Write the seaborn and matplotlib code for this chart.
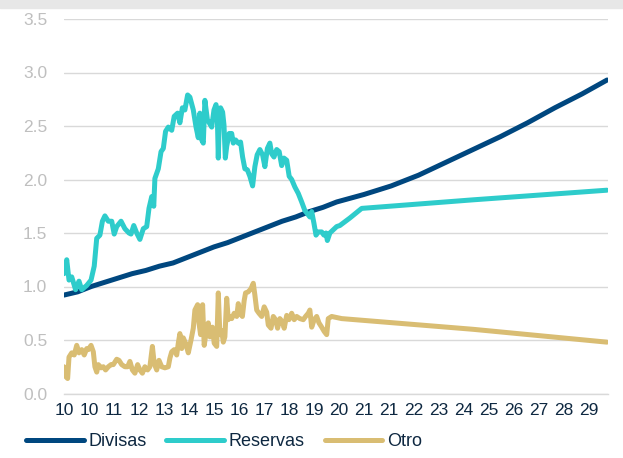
import numpy as np
import pandas as pd
import seaborn as sns
import matplotlib.pyplot as plt
from matplotlib.patches import Rectangle

# meses desde ene-2010
div_mes = [0, 6, 12, 18, 24, 30, 36, 42, 48, 54, 60, 66, 72, 78, 84, 90, 96, 102,
           108, 114, 120, 132, 144, 156, 168, 180, 192, 204, 216, 228, 239]
div_val = [0.92, 0.95, 1.00, 1.04, 1.08, 1.12, 1.15, 1.19, 1.22, 1.27, 1.32, 1.37,
           1.41, 1.46, 1.51, 1.56, 1.61, 1.65, 1.70, 1.74, 1.79, 1.86, 1.94, 2.04,
           2.16, 2.28, 2.40, 2.53, 2.67, 2.80, 2.93]

res_mes = [0.0, 1.2, 2.2, 3.4, 5.1, 6.6, 7.8, 10.0, 11.9, 13.3, 14.4, 15.8, 16.9, 18.0,
           19.5, 21.0, 22.1, 23.2, 25.1, 26.8, 28.6, 29.5, 30.7, 32.0, 33.4, 34.9, 36.4,
           37.4, 38.6, 39.5, 40.0, 41.5, 42.7, 43.7, 44.7, 45.9, 47.4, 48.5, 50.0, 51.0,
           52.1, 53.2, 54.4, 55.4, 56.9, 58.1, 59.1, 59.8, 60.6, 61.3, 62.0, 63.1, 63.9,
           65.0, 66.0, 66.9, 67.5, 67.9, 68.3, 68.9, 69.8, 70.4, 71.0, 71.6, 72.7, 73.8,
           74.5, 75.5, 76.7, 77.7, 78.6, 79.6, 80.7, 81.8, 83.0, 84.0, 85.0, 86.2, 87.4,
           88.4, 89.5, 90.6, 91.4, 92.4, 93.6, 94.7, 95.8, 96.8, 98.0, 99.1, 100.2, 101.6,
           103.1, 104.6, 106.0, 107.1, 108.2, 109.0, 110.0, 110.9, 111.9, 113.4, 114.4,
           115.3, 115.9, 117.0, 118.5, 120.0, 121.4, 125.8, 131.0, 180.0, 238.9]
res_val = [1.12, 1.25, 1.06, 1.09, 0.97, 1.05, 0.97, 1.01, 1.06, 1.19, 1.45, 1.48, 1.61, 1.66,
           1.61, 1.61, 1.49, 1.56, 1.61, 1.54, 1.50, 1.49, 1.57, 1.50, 1.44, 1.54, 1.56,
           1.73, 1.84, 1.75, 2.01, 2.10, 2.26, 2.29, 2.45, 2.49, 2.46, 2.59, 2.62, 2.53,
           2.67, 2.65, 2.79, 2.77, 2.65, 2.49, 2.39, 2.62, 2.37, 2.34, 2.74, 2.56, 2.53,
           2.49, 2.65, 2.70, 2.56, 2.20, 2.53, 2.67, 2.63, 2.51, 2.20, 2.31, 2.43, 2.43,
           2.34, 2.37, 2.34, 2.35, 2.21, 2.10, 2.09, 2.03, 1.94, 2.12, 2.23, 2.28, 2.23,
           2.12, 2.29, 2.34, 2.24, 2.21, 2.28, 2.26, 2.13, 2.20, 2.18, 2.03, 2.00, 1.93,
           1.87, 1.79, 1.71, 1.68, 1.65, 1.70, 1.59, 1.48, 1.51, 1.51, 1.48,
           1.50, 1.43, 1.50, 1.53, 1.56, 1.57, 1.64, 1.73, 1.81, 1.90]

otr_mes = [0.0, 0.7, 1.6, 2.2, 3.4, 4.5, 5.6, 6.6, 7.8, 8.9, 10.0, 10.7, 11.9, 12.9, 13.6,
           14.4, 15.1, 16.3, 17.3, 18.3, 19.5, 20.7, 21.7, 23.2, 24.2, 25.4, 26.8, 28.0,
           29.0, 30.1, 31.2, 32.4, 33.4, 34.5, 35.6, 36.8, 37.8, 38.9, 39.7, 40.8, 41.8,
           43.0, 44.4, 45.9, 46.6, 47.4, 48.5, 49.6, 50.3, 51.0, 51.8, 52.5, 53.5, 54.7,
           55.9, 56.9, 57.6, 58.8, 59.4, 60.1, 61.0, 61.7, 62.7, 63.5, 64.2, 65.3, 66.1,
           67.2, 67.9, 68.6, 69.4, 70.1, 70.8, 71.6, 72.3, 73.0, 73.8, 74.9, 76.0, 76.7,
           77.4, 78.5, 79.3, 79.9, 81.1, 82.3, 83.3, 84.0, 84.8, 85.8, 87.0, 88.1, 89.2,
           89.9, 91.1, 92.1, 93.1, 94.0, 95.0, 96.1, 96.9, 98.0, 99.0, 100.2, 101.3, 102.4,
           103.8, 105.3, 106.3, 107.5, 108.2, 109.0, 110.1, 111.2, 112.2, 113.4, 114.5,
           115.6, 116.3, 117.8, 122.2, 180.0, 238.9]
otr_val = [0.25, 0.16, 0.14, 0.34, 0.38, 0.36, 0.45, 0.38, 0.41, 0.36, 0.42, 0.41, 0.45, 0.39, 0.25,
           0.20, 0.27, 0.24, 0.25, 0.22, 0.25, 0.27, 0.27, 0.32, 0.31, 0.27, 0.25, 0.25,
           0.30, 0.22, 0.19, 0.27, 0.22, 0.19, 0.25, 0.22, 0.25, 0.44, 0.28, 0.22, 0.31,
           0.25, 0.24, 0.25, 0.33, 0.39, 0.41, 0.36, 0.47, 0.56, 0.42, 0.52, 0.47, 0.38,
           0.50, 0.61, 0.78, 0.83, 0.66, 0.55, 0.83, 0.45, 0.59, 0.66, 0.53, 0.62, 0.47,
           0.44, 0.94, 0.55, 0.59, 0.48, 0.53, 0.89, 0.69, 0.72, 0.70, 0.75, 0.72, 0.84,
           0.75, 0.72, 0.87, 0.94, 0.95, 0.98, 1.03, 0.92, 0.78, 0.75, 0.72, 0.81, 0.76,
           0.64, 0.61, 0.72, 0.69, 0.61, 0.70, 0.67, 0.61, 0.73, 0.69, 0.75, 0.69, 0.72,
           0.70, 0.69, 0.72, 0.75, 0.78, 0.62, 0.69, 0.72, 0.66, 0.62, 0.58,
           0.55, 0.70, 0.72, 0.70, 0.60, 0.48]

series = ['Divisas', 'Reservas', 'Otro']
colores = ['#00477f', '#2ecccb', '#d9bd73']

tick_labels = ['10', '10', '11', '12', '13', '14', '15', '16', '17', '18', '19', '20',
               '21', '21', '22', '23', '24', '25', '26', '27', '28', '29']

df = pd.concat([
    pd.DataFrame({'mes': div_mes, 'valor': div_val, 'serie': 'Divisas'}),
    pd.DataFrame({'mes': res_mes, 'valor': res_val, 'serie': 'Reservas'}),
    pd.DataFrame({'mes': otr_mes, 'valor': otr_val, 'serie': 'Otro'}),
], ignore_index=True)

sns.set_style('white')
plt.rcParams['font.family'] = ['Liberation Sans', 'DejaVu Sans']

fig = plt.figure(figsize=(6.23, 4.58), dpi=100)
fig.patches.append(Rectangle((0, 1 - 8 / 458), 1, 8 / 458, transform=fig.transFigure,
                             color='#e7e7e7', zorder=0))
ax = fig.add_axes([64 / 623, 1 - 393.5 / 458, 544 / 623, 374.5 / 458])

sns.lineplot(data=df, x='mes', y='valor', hue='serie', hue_order=series,
             palette=colores, estimator=None, sort=False, linewidth=3.6,
             ax=ax, legend=True)
for ln in ax.lines:
    ln.set_solid_capstyle('round')
    ln.set_solid_joinstyle('round')

ax.set_xlim(0, 239.4)
ax.set_ylim(0, 3.5)
ax.set_yticks(np.arange(0, 3.51, 0.5))
ax.set_yticklabels([f'{v:.1f}' for v in np.arange(0, 3.51, 0.5)])
ax.set_xticks(np.arange(0, 232, 11))
ax.set_xticklabels(tick_labels)
ax.set_xlabel('')
ax.set_ylabel('')

ax.grid(axis='y', color='#d9d9d9', linewidth=1)
ax.set_axisbelow(True)
for s in ['top', 'right', 'left']:
    ax.spines[s].set_visible(False)
ax.spines['bottom'].set_color('#d9d9d9')
ax.spines['bottom'].set_linewidth(1)

ax.tick_params(axis='y', length=0, pad=12, labelsize=12.5, labelcolor='#bfbfbf')
ax.tick_params(axis='x', length=4, width=1, color='#d9d9d9', pad=3,
               labelsize=12.5, labelcolor='#0e2841')

handles, labels = ax.get_legend_handles_labels()
ax.legend(handles, labels, loc='center left', bbox_to_anchor=(26 / 623, 16 / 458),
          bbox_transform=fig.transFigure, ncol=3, frameon=False, fontsize=13,
          handlelength=3.2, handletextpad=0.25, columnspacing=1.1, borderpad=0,
          borderaxespad=0, labelcolor='#0e2841')

fig.savefig('out.png', dpi=100)
